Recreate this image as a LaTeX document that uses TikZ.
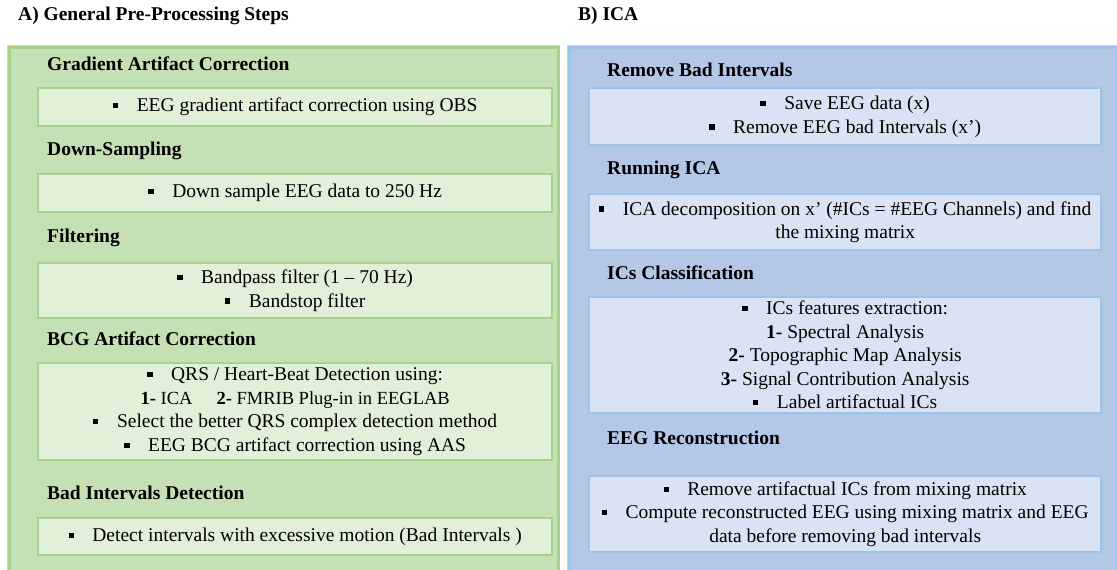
\documentclass[tikz,border=0pt]{standalone}
\usepackage{fontspec}
\setmainfont{Liberation Serif}
\definecolor{gfill}{HTML}{C5E0B4}
\definecolor{gbox}{HTML}{E2F0D9}
\definecolor{gline}{HTML}{A9D18E}
\definecolor{bfill}{HTML}{B4C7E7}
\definecolor{bbox}{HTML}{DAE3F3}
\definecolor{bline}{HTML}{9DC3E6}
\newcommand{\bul}{\rule[0.18em]{0.27em}{0.27em}\hspace{0.95em}}
\begin{document}
\begin{tikzpicture}[x=1pt,y=-1pt,
  panel/.style={anchor=north west, inner sep=0pt, line width=2.5pt,
    preaction={draw=black!18, line width=3.6pt}},
  gpanel/.style={panel, fill=gfill, draw=gline},
  bpanel/.style={panel, fill=bfill, draw=bline},
  boxbase/.style={anchor=north west, inner sep=0pt, line width=2.4pt, align=center,
    font=\fontsize{19.5}{23.5}\selectfont},
  gboxx/.style={boxbase, fill=gbox, draw=gline, minimum width=514pt},
  bboxx/.style={boxbase, fill=bbox, draw=bline, minimum width=512pt},
  head/.style={anchor=west, inner sep=0pt, font=\bfseries\fontsize{19.5}{22}\selectfont},
  ttl/.style={anchor=west, inner sep=0pt, font=\bfseries\fontsize{19.5}{22}\selectfont}]
\useasboundingbox (0,0) rectangle (1117,570);
% titles
\node[ttl] (tA) at (18,16) {A) General Pre-Processing Steps};
\node[ttl] (tB) at (578,16) {B) ICA};
% panels
\node[gpanel, minimum width=549pt, minimum height=530pt] (pA) at (8,46) {};
\node[bpanel, minimum width=548pt, minimum height=530pt] (pB) at (568,46) {};
% left panel
\node[head] (hA1) at (47,64) {Gradient Artifact Correction};
\node[gboxx, minimum height=38pt] (bA1) at (37,87) {\bul EEG gradient artifact correction using OBS};
\node[head] (hA2) at (47,151) {Down-Sampling};
\node[gboxx, minimum height=38pt] (bA2) at (37,173) {\bul Down sample EEG data to 250 Hz};
\node[head] (hA3) at (47,238) {Filtering};
\node[gboxx, minimum height=55pt] (bA3) at (37,262) {\bul Bandpass filter (1 – 70 Hz)\\ \bul Bandstop filter};
\node[head] (hA4) at (47,339) {BCG Artifact Correction};
\node[gboxx, minimum height=97pt] (bA4) at (37,362) {\bul QRS / Heart-Beat Detection using:\\
  {\fontsize{18.5}{23.5}\selectfont\textbf{1-} ICA\hspace{1.3em}\textbf{2-} FMRIB Plug-in in EEGLAB}\\
  \bul Select the better QRS complex detection method\\
  \bul EEG BCG artifact correction using AAS};
\node[head] (hA5) at (47,493) {Bad Intervals Detection};
\node[gboxx, minimum height=37pt] (bA5) at (37,517) {\bul Detect intervals with excessive motion (Bad Intervals )};
% right panel
\node[head] (hB1) at (607,70) {Remove Bad Intervals};
\node[bboxx, minimum height=57pt] (bB1) at (588,87) {\bul Save EEG data (x)\\ \bul Remove EEG bad Intervals (x’)};
\node[head] (hB2) at (607,170) {Running ICA};
\node[bboxx, minimum height=56pt] (bB2) at (588,193) {\bul ICA decomposition on x’ (\#ICs = \#EEG Channels) and find\\ the mixing matrix};
\node[head] (hB3) at (607,273) {ICs Classification};
\node[bboxx, minimum height=116pt] (bB3) at (588,296) {\bul ICs features extraction:\\
  \textbf{1-} Spectral Analysis\\
  \textbf{2-} Topographic Map Analysis\\
  \textbf{3-} Signal Contribution Analysis\\
  \bul Label artifactual ICs};
\node[head] (hB4) at (607,438) {EEG Reconstruction};
\node[bboxx, minimum height=76pt] (bB4) at (588,475) {\bul Remove artifactual ICs from mixing matrix\\
  \bul Compute reconstructed EEG using mixing matrix and EEG\\ data before removing bad intervals};
\end{tikzpicture}
\end{document}
